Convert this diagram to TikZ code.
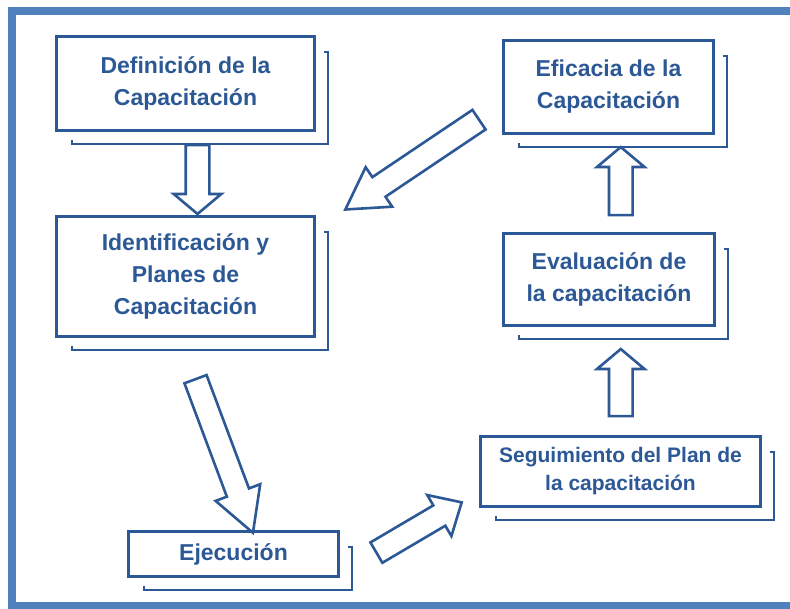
\documentclass[tikz,border=0pt]{standalone}
\usepackage{fontspec}
\setmainfont{Liberation Sans}
\usetikzlibrary{shapes.arrows,calc}

\definecolor{boxblue}{RGB}{44,88,150}
\definecolor{frameblue}{RGB}{79,129,189}

\begin{document}
\begin{tikzpicture}[x=1pt,y=-1pt]

    % styles
    \tikzstyle{box} = [draw=boxblue,line width=3pt,fill=white,text=boxblue,
        align=center,font=\bfseries\fontsize{23}{32}\selectfont]
    \tikzstyle{brk} = [draw=boxblue,line width=2.5pt]
    \tikzstyle{barrow} = [single arrow,draw=boxblue,fill=white,line width=2.6pt,
        inner xsep=0pt,inner ysep=10.5pt,single arrow head extend=12pt,
        single arrow head indent=0pt]

    % frame
    \useasboundingbox (0,0) rectangle (790,608);
    \clip (0,0) rectangle (790,608);
    \draw[draw=frameblue,line width=8pt] (12,10.5) rectangle (800,606);

    % left column
    \node[box,minimum width=258,minimum height=94] (def) at (185.5,83.5)
        {Definición de la\\Capacitación};
    \node[box,minimum width=258,minimum height=120] (ide) at (185.5,276.5)
        {Identificación y\\Planes de\\Capacitación};
    \node[box,minimum width=210,minimum height=45] (exe) at (233.5,554)
        {Ejecución};

    % right column
    \node[box,minimum width=280,minimum height=70,
        font=\bfseries\fontsize{21}{28}\selectfont] (seg) at (620.5,471.5)
        {Seguimiento del Plan de\\la capacitación};
    \node[box,minimum width=211,minimum height=92] (eva) at (609,279.5)
        {Evaluación de\\la capacitación};
    \node[box,minimum width=210,minimum height=93] (efi) at (608.5,87)
        {Eficacia de la\\Capacitación};

    % brackets behind the boxes
    \foreach \n in {def,ide,exe,seg,eva,efi} {
        \draw[brk] ($(\n.south west)+(17,8)$) -- ++(0,4)
            -| ($(\n.north east)+(12,17)$) -- ++(-4,0);
    }

    % block arrows
    \node[barrow,rotate=-90,minimum height=69,single arrow tip angle=100] (a1)
        at ($(def.south)!0.5!(ide.north)+(12,1)$) {};
    \node[barrow,rotate=-69.5,minimum height=164,single arrow tip angle=58] (a2)
        at ($(ide.south)!0.5!(exe.north)+(11,12)$) {};
    \node[barrow,rotate=30.5,minimum height=99,single arrow tip angle=85] (a3)
        at ($(exe.east)!0.5!(seg.west)+(4,18)$) {};
    \node[barrow,rotate=90,minimum height=67,single arrow tip angle=100] (a4)
        at ($(seg.north)!0.5!(eva.south)+(6,6.5)$) {};
    \node[barrow,rotate=90,minimum height=68,single arrow tip angle=100] (a5)
        at ($(eva.north)!0.5!(efi.south)+(12,2.5)$) {};
    \node[barrow,rotate=-146.1,minimum height=161,single arrow tip angle=61] (a6)
        at ($(efi.west)!0.5!(ide.north east)+(11.5,8)$) {};
\end{tikzpicture}
\end{document}
